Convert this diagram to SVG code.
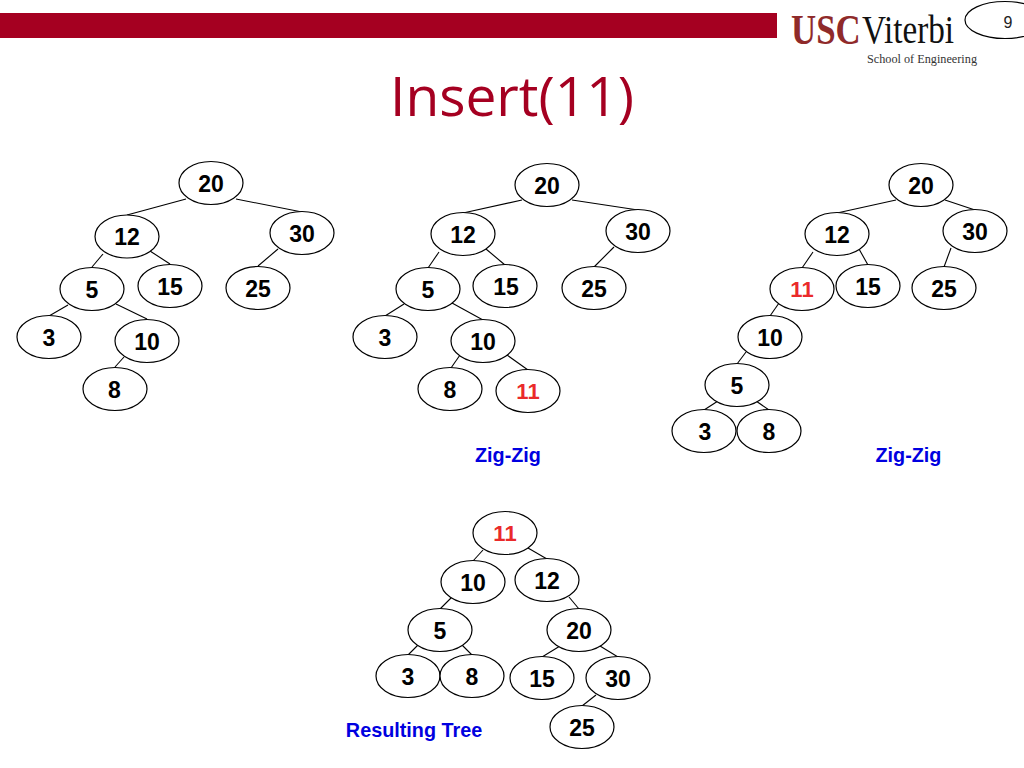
<svg xmlns="http://www.w3.org/2000/svg" width="1024" height="768" viewBox="0 0 1024 768">
<style>
.n ellipse{fill:#fff;stroke:#000;stroke-width:1.2}
.n text{font:bold 23px "Liberation Sans",Arial,sans-serif;text-anchor:middle;fill:#000;transform:translateY(1px)}
.n text.r{fill:#ea2a2a;font-size:22px}
#connectors line{stroke:#000;stroke-width:1.1}
.cap{font:bold 19.800px "Liberation Sans",Arial,sans-serif;fill:#0000e0;text-anchor:middle}
</style>
<rect x="0" y="13" width="777" height="25" fill="#a50021"/>
<g id="logo">
<text transform="translate(791 44) scale(0.81 1)" font-family="Liberation Serif,serif" font-size="43" font-weight="bold" fill="#8f2a2a">USC</text>
<text transform="translate(862 43) scale(0.83 1)" font-family="Liberation Serif,serif" font-size="40" fill="#111">Viterbi</text>
<text x="867" y="63" font-family="Liberation Serif,serif" font-size="13" fill="#333" textLength="110" lengthAdjust="spacingAndGlyphs">School of Engineering</text>
</g>
<g id="page-number"><ellipse cx="1005" cy="20" rx="40" ry="18.5" fill="#fff" stroke="#000" stroke-width="1.2"/><text x="1008" y="28" font-family="Liberation Sans,sans-serif" font-size="16" fill="#222" text-anchor="middle">9</text></g>
<text id="title" x="512" y="116" font-family="Open Sans,sans-serif" font-size="55" fill="#a50021" text-anchor="middle" textLength="244" lengthAdjust="spacingAndGlyphs">Insert(11)</text>
<g id="connectors">
<line x1="186" y1="199" x2="127" y2="215"/><line x1="236" y1="199" x2="302" y2="212"/><line x1="103" y1="254" x2="92" y2="267"/><line x1="150" y1="251" x2="170" y2="264"/><line x1="278" y1="249" x2="258" y2="266"/><line x1="68" y1="305" x2="49" y2="316"/><line x1="116" y1="304" x2="147" y2="319"/><line x1="124" y1="357" x2="115" y2="367"/>
<line x1="522" y1="200" x2="463" y2="213"/><line x1="572" y1="200" x2="638" y2="210"/><line x1="439" y1="252" x2="428" y2="268"/><line x1="486" y1="249" x2="505" y2="265"/><line x1="614" y1="247" x2="594" y2="267"/><line x1="404" y1="304" x2="385" y2="316"/><line x1="452" y1="303" x2="483" y2="320"/><line x1="460" y1="355" x2="451" y2="368"/><line x1="507" y1="355" x2="528" y2="370"/>
<line x1="896" y1="200" x2="837" y2="213"/><line x1="945" y1="200" x2="975" y2="210"/><line x1="813" y1="252" x2="802" y2="268"/><line x1="859" y1="249" x2="868" y2="265"/><line x1="951" y1="248" x2="944" y2="267"/><line x1="779" y1="303" x2="770" y2="316"/><line x1="746" y1="352" x2="737" y2="364"/><line x1="718" y1="401" x2="704" y2="410"/><line x1="756" y1="401" x2="769" y2="410"/>
<line x1="483" y1="550" x2="473" y2="561"/><line x1="528" y1="548" x2="547" y2="559"/><line x1="452" y1="597" x2="440" y2="609"/><line x1="569" y1="597" x2="579" y2="609"/><line x1="418" y1="645" x2="408" y2="655"/><line x1="462" y1="645" x2="472" y2="655"/><line x1="560" y1="646" x2="542" y2="657"/><line x1="600" y1="646" x2="618" y2="657"/><line x1="596" y1="695" x2="582" y2="706"/>
</g>
<g id="tree1" class="n">
<g id="a20"><ellipse cx="211" cy="183" rx="32" ry="21.5"/><text x="211" y="191">20</text></g>
<g id="a12"><ellipse cx="127" cy="236.500" rx="32" ry="21.5"/><text x="127" y="244">12</text></g>
<g id="a30"><ellipse cx="302" cy="233" rx="32" ry="21.5"/><text x="302" y="241">30</text></g>
<g id="a5"><ellipse cx="92" cy="289" rx="32" ry="21.5"/><text x="92" y="297">5</text></g>
<g id="a15"><ellipse cx="170" cy="286" rx="32" ry="21.5"/><text x="170" y="294">15</text></g>
<g id="a25"><ellipse cx="258" cy="288" rx="32" ry="21.5"/><text x="258" y="296">25</text></g>
<g id="a3"><ellipse cx="49" cy="337" rx="32" ry="21.5"/><text x="49" y="345">3</text></g>
<g id="a10"><ellipse cx="147" cy="341" rx="32" ry="21.5"/><text x="147" y="349">10</text></g>
<g id="a8"><ellipse cx="115" cy="389" rx="32" ry="21.5"/><text x="114.500" y="397">8</text></g>
</g>
<g id="tree2" class="n">
<g id="b20"><ellipse cx="547" cy="185" rx="32" ry="21.5"/><text x="547" y="193">20</text></g>
<g id="b12"><ellipse cx="463" cy="234" rx="32" ry="21.5"/><text x="463" y="242">12</text></g>
<g id="b30"><ellipse cx="638" cy="231" rx="32" ry="21.5"/><text x="638" y="239">30</text></g>
<g id="b5"><ellipse cx="428" cy="289" rx="32" ry="21.5"/><text x="428" y="297">5</text></g>
<g id="b15"><ellipse cx="505" cy="286" rx="32" ry="21.5"/><text x="506" y="294">15</text></g>
<g id="b25"><ellipse cx="594" cy="288" rx="32" ry="21.5"/><text x="594" y="296">25</text></g>
<g id="b3"><ellipse cx="385" cy="337" rx="32" ry="21.5"/><text x="385" y="345">3</text></g>
<g id="b10"><ellipse cx="483" cy="341" rx="32" ry="21.5"/><text x="483" y="349">10</text></g>
<g id="b8"><ellipse cx="450" cy="389" rx="32" ry="21.5"/><text x="450" y="397">8</text></g>
<g id="b11"><ellipse cx="528" cy="391" rx="32" ry="21.5"/><text class="r" x="528" y="398">11</text></g>
</g>
<g id="tree3" class="n">
<g id="c20"><ellipse cx="921" cy="185" rx="32" ry="21.5"/><text x="921" y="193">20</text></g>
<g id="c12"><ellipse cx="837" cy="234" rx="32" ry="21.5"/><text x="837" y="242">12</text></g>
<g id="c30"><ellipse cx="975" cy="231" rx="32" ry="21.5"/><text x="975" y="239">30</text></g>
<g id="c11"><ellipse cx="802" cy="289" rx="32" ry="21.5"/><text class="r" x="802" y="296">11</text></g>
<g id="c15"><ellipse cx="868" cy="286" rx="32" ry="21.5"/><text x="868" y="294">15</text></g>
<g id="c25"><ellipse cx="944" cy="288" rx="32" ry="21.5"/><text x="944" y="296">25</text></g>
<g id="c10"><ellipse cx="770" cy="337" rx="32" ry="21.5"/><text x="770" y="345">10</text></g>
<g id="c5"><ellipse cx="737" cy="385" rx="32" ry="21.5"/><text x="737" y="393">5</text></g>
<g id="c3"><ellipse cx="704" cy="431" rx="32" ry="21.5"/><text x="705" y="439">3</text></g>
<g id="c8"><ellipse cx="769" cy="431" rx="32" ry="21.5"/><text x="769" y="439">8</text></g>
</g>
<g id="tree4" class="n">
<g id="d11"><ellipse cx="505" cy="533" rx="32" ry="21.5"/><text class="r" x="505" y="540">11</text></g>
<g id="d10"><ellipse cx="473" cy="582" rx="32" ry="21.5"/><text x="473" y="590">10</text></g>
<g id="d12"><ellipse cx="547" cy="580" rx="32" ry="21.5"/><text x="547" y="588">12</text></g>
<g id="d5"><ellipse cx="440" cy="630" rx="32" ry="21.5"/><text x="440" y="638">5</text></g>
<g id="d20"><ellipse cx="579" cy="630" rx="32" ry="21.5"/><text x="579" y="638">20</text></g>
<g id="d3"><ellipse cx="408" cy="676" rx="32" ry="21.5"/><text x="408" y="684">3</text></g>
<g id="d8"><ellipse cx="472" cy="676" rx="32" ry="21.5"/><text x="472" y="684">8</text></g>
<g id="d15"><ellipse cx="542" cy="678" rx="32" ry="21.5"/><text x="542" y="686">15</text></g>
<g id="d30"><ellipse cx="618" cy="678" rx="32" ry="21.5"/><text x="618" y="686">30</text></g>
<g id="d25"><ellipse cx="582" cy="727" rx="32" ry="21.5"/><text x="582" y="735">25</text></g>
</g>
<text class="cap" x="508" y="462">Zig-Zig</text>
<text class="cap" x="908.500" y="462">Zig-Zig</text>
<text class="cap" x="414" y="737">Resulting Tree</text>
</svg>
